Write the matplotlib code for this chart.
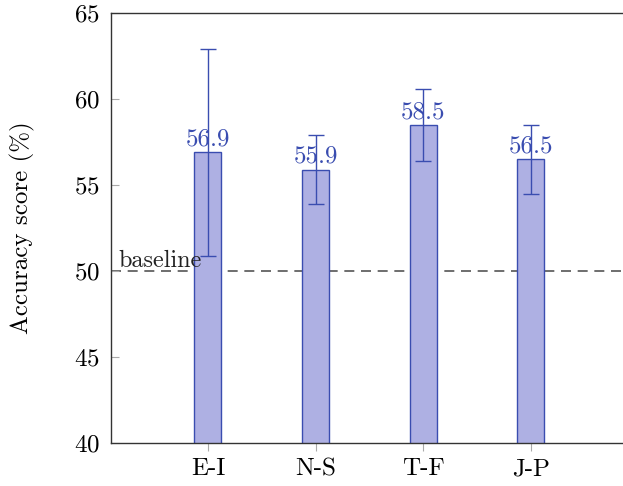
import matplotlib
matplotlib.use("Agg")
from matplotlib import pyplot as plt
import numpy as np

plt.rcParams["font.family"] = "serif"
plt.rcParams["font.serif"] = ["cmr10", "DejaVu Serif"]
plt.rcParams["axes.formatter.use_mathtext"] = True
plt.rcParams["mathtext.fontset"] = "cm"

categories = ["E-I", "N-S", "T-F", "J-P"]
accuracy = [56.9, 55.9, 58.5, 56.5]
errors = [6.0, 2.0, 2.1, 2.0]
baseline = 50

fill = "#aeb0e3"
edge = "#3a4db0"

fig = plt.figure(figsize=(6.23, 4.86), dpi=100)
ax = fig.add_axes([111 / 623, 43 / 486, 520 / 623, 430 / 486])

x = np.arange(1, len(categories) + 1)
ax.bar(x, accuracy, width=0.25, color=fill, edgecolor=edge, linewidth=1.0, zorder=2)
ax.errorbar(x, accuracy, yerr=errors, fmt="none", ecolor=edge, elinewidth=1.0,
            capsize=6, capthick=1.0, zorder=3)
for xi, v in zip(x, accuracy):
    ax.text(xi, v + 0.1, f"{v}", color=edge, ha="center", va="bottom", fontsize=18, zorder=4)

ax.axhline(baseline, color="#555555", linestyle=(0, (6, 4)), linewidth=1.2, zorder=1)
ax.text(0.17, baseline - 0.05, "baseline", ha="left", va="bottom", fontsize=17.5, color="#222222")

ax.set_xlim(0.1, 4.93)
ax.set_ylim(40, 65)
ax.set_yticks([40, 45, 50, 55, 60, 65])
ax.set_xticks(x)
ax.set_xticklabels(categories)
ax.set_ylabel("Accuracy score (%)", fontsize=18, labelpad=28)

ax.tick_params(axis="y", direction="in", length=6, color="#aaaaaa", labelsize=18,
               right=True, pad=8)
ax.tick_params(axis="x", direction="out", length=6, color="#aaaaaa", labelsize=18, pad=5)
for s in ax.spines.values():
    s.set_color("#333333")
    s.set_linewidth(1.0)

fig.savefig("out.png", dpi=100)
